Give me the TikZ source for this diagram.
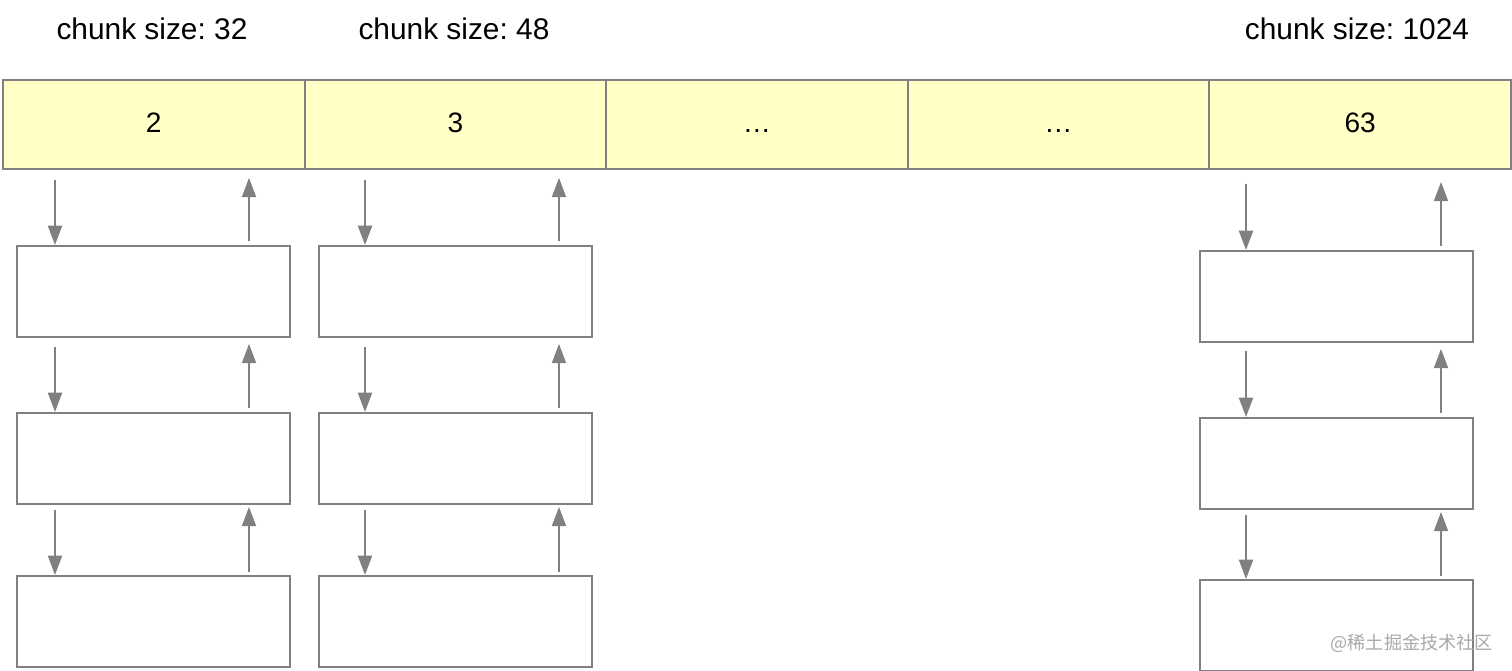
\documentclass[tikz,border=0pt]{standalone}
\usepackage{fontspec}
\setmainfont{Liberation Sans}
\newfontfamily\cjk{Noto Sans CJK SC}
\usetikzlibrary{arrows.meta}
\definecolor{edge}{HTML}{808080}
\definecolor{cellfill}{HTML}{FFFFC6}
\definecolor{wmark}{HTML}{A8A8A8}
\frenchspacing
\begin{document}
\begin{tikzpicture}[x=0.02cm,y=-0.02cm,
  cell/.style={draw=edge, fill=cellfill, line width=1.1pt, minimum width=6.032cm,
    minimum height=1.78cm, inner sep=0pt, anchor=north west,
    text height=0.92em, text depth=0pt, font=\fontsize{16}{19}\selectfont},
  listbox/.style={draw=edge, line width=1.1pt, minimum width=5.46cm,
    minimum height=1.82cm, inner sep=0pt, anchor=north west},
  title/.style={font=\fontsize{17}{20}\selectfont, inner sep=0pt, anchor=base},
  link/.style={draw=edge, line width=1.1pt, -{Triangle[length=11pt,width=8pt]}},
  gapstart/.style={shorten <=#1*0.569pt},
  gapend/.style={shorten >=#1*0.569pt}]
\useasboundingbox (0,0) rectangle (1512,671);

% size-class headings
\node[title] (t1) at (152,40) {chunk size: 32};
\node[title] (t2) at (454,40) {chunk size: 48};
\node[title] (t3) at (1357,40) {chunk size: 1024};

% the array of size classes
\node[cell] (c1) at (2,79) {2};
\node[cell] (c2) at (303.6,79) {3};
\node[cell] (c3) at (605.2,79) {…};
\node[cell] (c4) at (906.8,79) {…};
\node[cell] (c5) at (1208.4,79) {63};

% chunk lists
\node[listbox] (a1) at (16,245) {};
\node[listbox] (a2) at (16,412) {};
\node[listbox] (a3) at (16,575) {};
\node[listbox] (b1) at (318,245) {};
\node[listbox] (b2) at (318,412) {};
\node[listbox] (b3) at (318,575) {};
\node[listbox] (e1) at (1199,250) {};
\node[listbox] (e2) at (1199,417) {};
\node[listbox] (e3) at (1199,579) {};

% x positions of the links
\coordinate (ad) at (55,0);
\coordinate (au) at (249,0);
\coordinate (bd) at (365,0);
\coordinate (bu) at (559,0);
\coordinate (ed) at (1246,0);
\coordinate (eu) at (1441,0);

% first column
\draw[link,gapstart=10] (c1.south -| ad) -- (a1.north -| ad);
\draw[link,gapstart=4,gapend=8] (a1.north -| au) -- (c1.south -| au);
\draw[link,gapstart=9] (a1.south -| ad) -- (a2.north -| ad);
\draw[link,gapstart=4,gapend=6] (a2.north -| au) -- (a1.south -| au);
\draw[link,gapstart=5] (a2.south -| ad) -- (a3.north -| ad);
\draw[link,gapstart=3,gapend=2] (a3.north -| au) -- (a2.south -| au);

% second column
\draw[link,gapstart=10] (c2.south -| bd) -- (b1.north -| bd);
\draw[link,gapstart=4,gapend=8] (b1.north -| bu) -- (c2.south -| bu);
\draw[link,gapstart=9] (b1.south -| bd) -- (b2.north -| bd);
\draw[link,gapstart=4,gapend=6] (b2.north -| bu) -- (b1.south -| bu);
\draw[link,gapstart=5] (b2.south -| bd) -- (b3.north -| bd);
\draw[link,gapstart=3,gapend=2] (b3.north -| bu) -- (b2.south -| bu);

% last column
\draw[link,gapstart=14] (c5.south -| ed) -- (e1.north -| ed);
\draw[link,gapstart=4,gapend=12] (e1.north -| eu) -- (c5.south -| eu);
\draw[link,gapstart=8] (e1.south -| ed) -- (e2.north -| ed);
\draw[link,gapstart=4,gapend=6] (e2.north -| eu) -- (e1.south -| eu);
\draw[link,gapstart=5] (e2.south -| ed) -- (e3.north -| ed);
\draw[link,gapstart=3,gapend=2] (e3.north -| eu) -- (e2.south -| eu);

% site mark
\node[text=wmark, font=\cjk\fontsize{10.3}{12}\selectfont, inner sep=0pt, anchor=east]
  (wm) at (1493,643) {@稀土掘金技术社区};
\end{tikzpicture}
\end{document}
